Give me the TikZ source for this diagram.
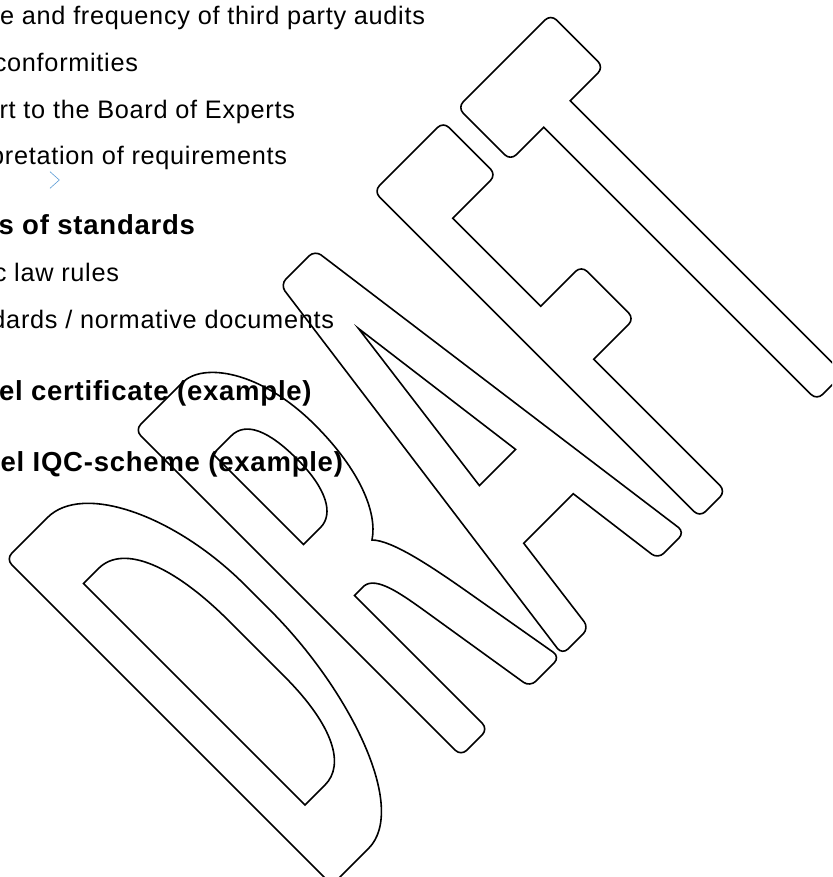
\documentclass[tikz,border=0pt]{standalone}
\usepackage{fontspec}
\setmainfont{Liberation Sans}[LetterSpace=2.8]
\definecolor{chevblue}{RGB}{91,155,213}

\begin{document}
\begin{tikzpicture}[x=1pt,y=-1pt,
  txt/.style={anchor=base east,inner sep=0pt,outer sep=0pt,font=\fontsize{25.3}{30}\selectfont},
  head/.style={txt,font=\fontsize{27.5}{32}\selectfont\bfseries},
  letter/.style={line width=1.6pt}]

\useasboundingbox (0,0) rectangle (832,877);
\clip (0,0) rectangle (832,877);

% list lines, cut at the left border
\foreach \xe/\yb/\txt [count=\i] in {
  425/25/{e and frequency of third party audits},
  138/71.7/{conformities},
  295/118.3/{rt to the Board of Experts},
  287/165/{pretation of requirements},
  119/281.7/{c law rules},
  334/328.3/{dards / normative documents}}
  \node[txt] (item\i) at (\xe,\yb) {\txt};

\foreach \xe/\yb/\txt [count=\i] in {
  195/234/{s of standards},
  311.7/400.7/{el certificate (example)},
  343/471/{el IQC-scheme (example)}}
  \node[head] (head\i) at (\xe,\yb) {\txt};

% small chevron
\draw [chevblue, line width=0.6pt] (50,171.7) -- (59.3,180) -- (50,188.3);

% draw the letters, written along the baseline (p) and down the letter (q)
\begin{scope}[x={(0.5pt,0.5pt)},y={(0.5pt,-0.5pt)}]

% D
\draw [letter] (-470,565) .. controls (-400,565) and (-340,690) .. (-340,830) -- (-340,880)
  .. controls (-340,1040) and (-400,1217) .. (-480,1217)
  [rounded corners=8pt] -- (-553,1217) -- (-553,565) [sharp corners] -- cycle;
\draw [letter] (-500,667) -- (-470,667) .. controls (-420,667) and (-392,740) .. (-392,850) -- (-392,960)
  .. controls (-392,1060) and (-420,1110) .. (-460,1110) -- (-500,1110) -- cycle;

% R
\draw [letter] (-168,912) .. controls (-148,932) and (-135,1000) .. (-126,1050)
  [rounded corners=8pt] -- (-97,1217) -- (-157,1217)
  [sharp corners] -- (-187,1030) .. controls (-193,995) and (-200,952) .. (-222,950) -- (-241,950)
  [rounded corners=8pt] -- (-241,1217) -- (-295,1217) -- (-295,565)
  [sharp corners] -- (-200,565) .. controls (-160,565) and (-110,630) .. (-110,740)
  .. controls (-110,830) and (-135,890) .. (-168,912) -- cycle;
\draw [letter] (-241,667) -- (-205,667) .. controls (-175,667) and (-162,700) .. (-162,757)
  .. controls (-162,815) and (-180,848) .. (-207,848) -- (-241,848) -- cycle;

% A
\draw [letter] (79.5,1067) -- (-19.5,1067)
  [rounded corners=8pt] -- (-39,1217) -- (-92.5,1217) -- (-4.6,565) -- (64.6,565) -- (152.5,1217) -- (99,1217)
  [sharp corners] -- cycle;
\draw [letter] (30,687) -- (66.2,965) -- (-6.2,965) -- cycle;

% F
\draw [letter] (234.5,671) -- (234.5,847)
  [rounded corners=8pt] -- (315.7,847) -- (315.7,953)
  [sharp corners] -- (234.5,953)
  [rounded corners=8pt] -- (234.5,1217) -- (182.5,1217) -- (182.5,565) -- (321.5,565) -- (321.5,671)
  [sharp corners] -- cycle;

% T
\draw [letter] (469.6,671)
  [rounded corners=8pt] -- (469.6,1217) -- (416.6,1217)
  [sharp corners] -- (416.6,671)
  [rounded corners=8pt] -- (350,671) -- (350,565) -- (536.5,565) -- (536.5,671)
  [sharp corners] -- cycle;
\end{scope}

\end{tikzpicture}
\end{document}
